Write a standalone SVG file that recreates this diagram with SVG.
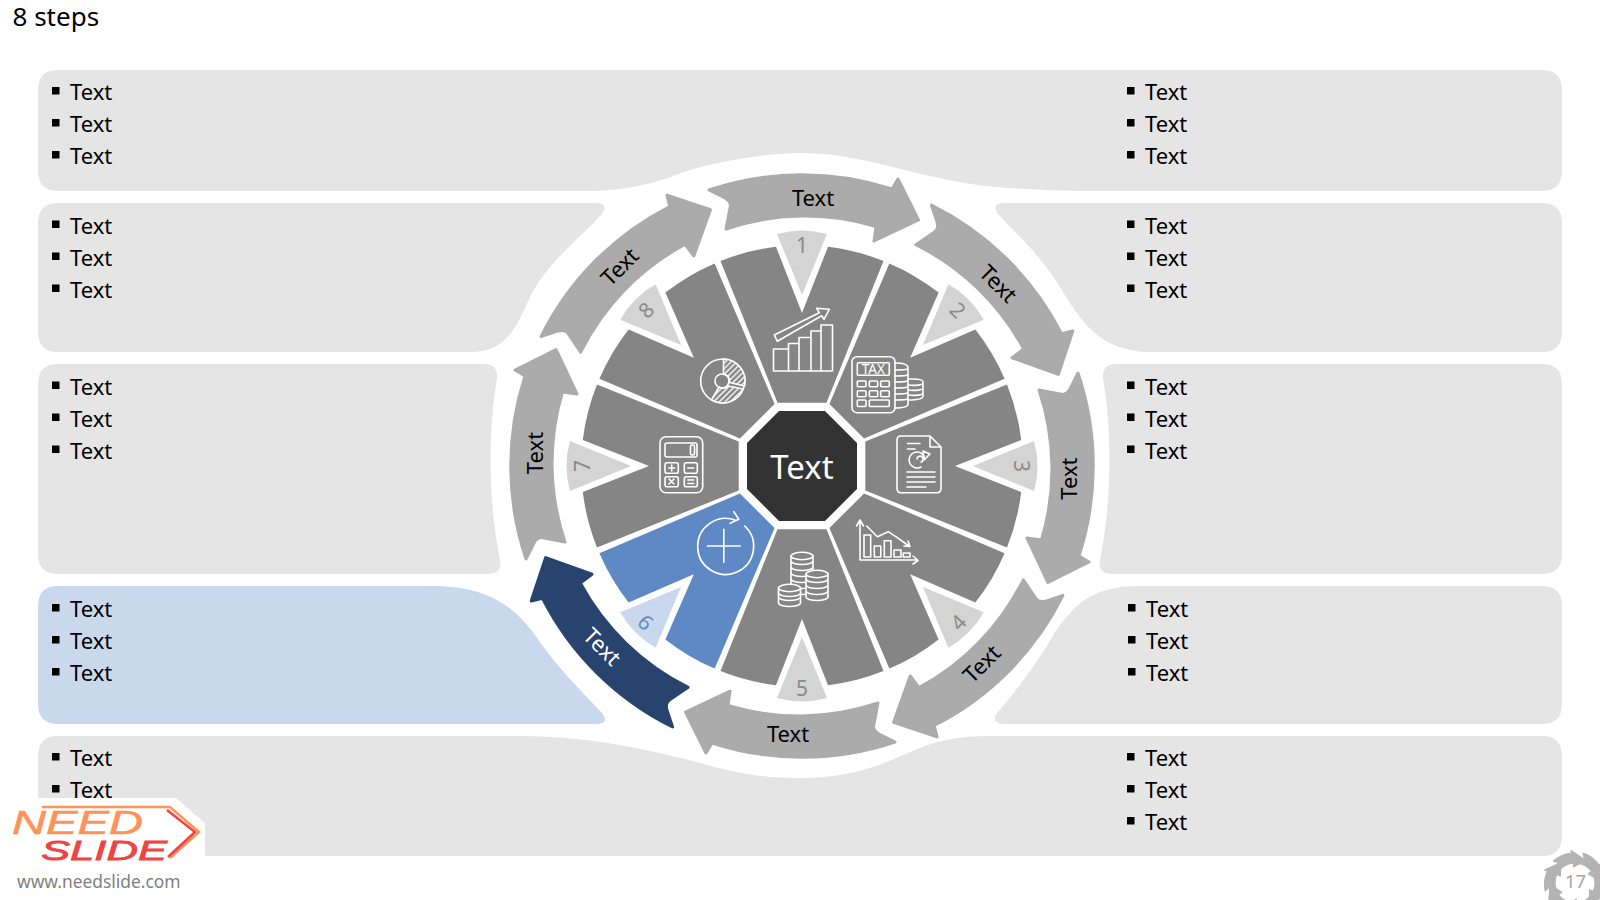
<svg xmlns="http://www.w3.org/2000/svg" width="1600" height="900" viewBox="0 0 1600 900">
<style>
text{font-family:"Noto Sans","Open Sans","Liberation Sans",sans-serif}
.panel{fill:#e5e5e5}
.t{font-size:22px;fill:#000}
.al{font-size:22px;fill:#000;text-anchor:middle}
.n{font-size:21px;fill:#8a8a8a;text-anchor:middle}
.sector{fill:#858585}
.wedge{fill:#d4d4d4}
.arrow{fill:#ababab;stroke:#ababab;stroke-width:3;stroke-linejoin:round}
.mini{fill:#b3b3b3;stroke:#b3b3b3;stroke-width:1;stroke-linejoin:round}
.ic{fill:none;stroke:#fff;stroke-width:1.6;stroke-linejoin:round;stroke-linecap:round}
.icg{fill:#858585;stroke:#fff;stroke-width:1.6;stroke-linejoin:round}
</style>
<defs>
<rect id="b" width="7.5" height="7.5" fill="#000"/>
<path id="sec" d="M-24.5,-63.3 L-81.5,-205 A220.7,220.7 0 0 1 -26,-219.2 L0,-153 L26,-219.2 A220.7,220.7 0 0 1 81.5,-205 L24.5,-63.3 Z"/>
<path id="wed" d="M0,-171 L25,-232 Q0,-239 -25,-232 Z"/>
<path id="arr" d="M-93,-276 A291,291 0 0 1 90,-277 L96,-287 L116.5,-246 L72,-225 L74,-239.5 A247.5,247.5 0 0 0 -76,-237 L-72,-258 Q-70,-264 -77,-268 Z"/>
<path id="mini" d="M-21.9,-21.9 A31,31 0 0 1 -3.7,-29.8 L-4,-32.8 L11,-22.5 L-1.4,-16 L-1.7,-20 A20,20 0 0 0 -14,-14 L-15.4,-19.7 Z"/>
<g id="disk"><path class="icg" d="M-11,-4 V1 A11,3.5 0 0 0 11,1 V-4 Z"/></g>
<pattern id="hatch" width="4" height="4" patternUnits="userSpaceOnUse" patternTransform="rotate(45)"><rect width="4" height="4" fill="#858585"/><rect width="1.4" height="4" fill="#fff"/></pattern>
</defs>
<rect width="1600" height="900" fill="#fff"/>
<text id="title" x="12.5" y="26" style="font-size:26px" fill="#000">8 steps</text>

<g id="panels">
<path id="panel-top" class="panel" d="M58,70 H1542 Q1562,70 1562,90 V171 Q1562,191 1542,191 H1090 C1040,191 980,188 940,178 C900,170 850,153 802,153 C770,153 720,160 684,172 C660,181 635,190 590,191 H58 Q38,191 38,171 V90 Q38,70 58,70 Z"/>
<path id="panel-l2" class="panel" d="M58,203 H594 Q610,203 602,214 C575,243 548,262 530,297 C517,325 508,352 470,352 H58 Q38,352 38,332 V223 Q38,203 58,203 Z"/>
<path id="panel-l3" class="panel" d="M58,364 H484 Q498,364 497,378 C488,430 488,500 500,560 Q503,574 488,574 H58 Q38,574 38,554 V384 Q38,364 58,364 Z"/>
<path id="panel-l4" fill="#c9d8ec" d="M58,586 H430 C480,586 510,600 535,635 C555,665 580,690 602,713 Q610,724 596,724 H58 Q38,724 38,704 V606 Q38,586 58,586 Z"/>
<path id="panel-bottom" class="panel" d="M58,736 H520 C590,736 650,750 700,763 C740,775 770,778 800,778 C860,778 890,760 920,748 C940,740 960,736 990,736 H1542 Q1562,736 1562,756 V836 Q1562,856 1542,856 H58 Q38,856 38,836 V756 Q38,736 58,736 Z"/>
<path id="panel-r2" class="panel" d="M1542,203 H1006 Q990,203 998,214 C1025,243 1040,255 1060,287 C1080,320 1100,352 1150,352 H1542 Q1562,352 1562,332 V223 Q1562,203 1542,203 Z"/>
<path id="panel-r3" class="panel" d="M1542,364 H1116 Q1102,364 1103,378 C1112,430 1112,500 1100,560 Q1097,574 1112,574 H1542 Q1562,574 1562,554 V384 Q1562,364 1542,364 Z"/>
<path id="panel-r4" class="panel" d="M1542,586 H1140 C1090,586 1075,605 1055,632 C1040,660 1015,692 997,713 Q990,724 1006,724 H1542 Q1562,724 1562,704 V606 Q1562,586 1542,586 Z"/>
</g>

<g id="lists-left">
<use href="#b" x="52" y="87"/><text class="t" x="70" y="100">Text</text>
<use href="#b" x="52" y="119"/><text class="t" x="70" y="132">Text</text>
<use href="#b" x="52" y="151"/><text class="t" x="70" y="164">Text</text>
<use href="#b" x="52" y="220.500"/><text class="t" x="70" y="233.500">Text</text>
<use href="#b" x="52" y="252.500"/><text class="t" x="70" y="265.500">Text</text>
<use href="#b" x="52" y="284.500"/><text class="t" x="70" y="297.500">Text</text>
<use href="#b" x="52" y="381.500"/><text class="t" x="70" y="394.500">Text</text>
<use href="#b" x="52" y="413.500"/><text class="t" x="70" y="426.500">Text</text>
<use href="#b" x="52" y="445.500"/><text class="t" x="70" y="458.500">Text</text>
<use href="#b" x="52" y="604"/><text class="t" x="70" y="617">Text</text>
<use href="#b" x="52" y="636"/><text class="t" x="70" y="649">Text</text>
<use href="#b" x="52" y="668"/><text class="t" x="70" y="681">Text</text>
<use href="#b" x="52" y="753"/><text class="t" x="70" y="766">Text</text>
<use href="#b" x="52" y="785"/><text class="t" x="70" y="798">Text</text>
</g>
<g id="lists-right">
<use href="#b" x="1127" y="87"/><text class="t" x="1145" y="100">Text</text>
<use href="#b" x="1127" y="119"/><text class="t" x="1145" y="132">Text</text>
<use href="#b" x="1127" y="151"/><text class="t" x="1145" y="164">Text</text>
<use href="#b" x="1127" y="220.500"/><text class="t" x="1145" y="233.500">Text</text>
<use href="#b" x="1127" y="252.500"/><text class="t" x="1145" y="265.500">Text</text>
<use href="#b" x="1127" y="284.500"/><text class="t" x="1145" y="297.500">Text</text>
<use href="#b" x="1127" y="381.500"/><text class="t" x="1145" y="394.500">Text</text>
<use href="#b" x="1127" y="413.500"/><text class="t" x="1145" y="426.500">Text</text>
<use href="#b" x="1127" y="445.500"/><text class="t" x="1145" y="458.500">Text</text>
<use href="#b" x="1128" y="604"/><text class="t" x="1146" y="617">Text</text>
<use href="#b" x="1128" y="636"/><text class="t" x="1146" y="649">Text</text>
<use href="#b" x="1128" y="668"/><text class="t" x="1146" y="681">Text</text>
<use href="#b" x="1127" y="753"/><text class="t" x="1145" y="766">Text</text>
<use href="#b" x="1127" y="785"/><text class="t" x="1145" y="798">Text</text>
<use href="#b" x="1127" y="817"/><text class="t" x="1145" y="830">Text</text>
</g>

<g id="arrows">
<g id="arrow-1"><use href="#arr" class="arrow" transform="translate(802,466)"/><text class="al" transform="translate(813,206)">Text</text></g>
<g id="arrow-2"><use href="#arr" class="arrow" transform="translate(802,466) rotate(45)"/><text class="al" transform="translate(998,284) rotate(45) translate(0,7.500)">Text</text></g>
<g id="arrow-3"><use href="#arr" class="arrow" transform="translate(802,466) rotate(90)"/><text class="al" transform="translate(1069,478.600) rotate(-90) translate(0,7.500)">Text</text></g>
<g id="arrow-4"><use href="#arr" class="arrow" transform="translate(802,466) rotate(135)"/><text class="al" transform="translate(982,664) rotate(-45) translate(0,7.500)">Text</text></g>
<g id="arrow-5"><use href="#arr" class="arrow" transform="translate(802,466) rotate(180)"/><text class="al" transform="translate(788,741.500)">Text</text></g>
<g id="arrow-6"><use href="#arr" class="arrow" style="fill:#27436e;stroke:#27436e" transform="translate(802,466) rotate(225)"/><text class="al" style="fill:#fff" transform="translate(602,647) rotate(45) translate(0,7.500)">Text</text></g>
<g id="arrow-7"><use href="#arr" class="arrow" transform="translate(802,466) rotate(270)"/><text class="al" transform="translate(535,453) rotate(-90) translate(0,7.500)">Text</text></g>
<g id="arrow-8"><use href="#arr" class="arrow" transform="translate(802,466) rotate(315)"/><text class="al" transform="translate(620,267) rotate(-45) translate(0,7.500)">Text</text></g>
</g>

<g id="sectors">
<g id="sector-1"><use href="#sec" class="sector" transform="translate(802,466)"/><use href="#wed" class="wedge" transform="translate(802,466)"/><text class="n" dy=".35em" transform="translate(802,246)">1</text></g>
<g id="sector-2"><use href="#sec" class="sector" transform="translate(802,466) rotate(45)"/><use href="#wed" class="wedge" transform="translate(802,466) rotate(45)"/><text class="n" dy=".35em" transform="translate(957.600,310.400) rotate(45)">2</text></g>
<g id="sector-3"><use href="#sec" class="sector" transform="translate(802,466) rotate(90)"/><use href="#wed" class="wedge" transform="translate(802,466) rotate(90)"/><text class="n" dy=".35em" transform="translate(1021,466) rotate(90)">3</text></g>
<g id="sector-4"><use href="#sec" class="sector" transform="translate(802,466) rotate(135)"/><use href="#wed" class="wedge" transform="translate(802,466) rotate(135)"/><text class="n" dy=".35em" transform="translate(958.500,622.500) rotate(-45)">4</text></g>
<g id="sector-5"><use href="#sec" class="sector" transform="translate(802,466) rotate(180)"/><use href="#wed" class="wedge" transform="translate(802,466) rotate(180)"/><text class="n" dy=".35em" transform="translate(802,688.500)">5</text></g>
<g id="sector-6"><use href="#sec" fill="#5f89c5" transform="translate(802,466) rotate(225)"/><use href="#wed" fill="#c9d8ec" transform="translate(802,466) rotate(225)"/><text class="n" style="fill:#5f89c5" dy=".35em" transform="translate(645.500,622.500) rotate(45)">6</text></g>
<g id="sector-7"><use href="#sec" class="sector" transform="translate(802,466) rotate(270)"/><use href="#wed" class="wedge" transform="translate(802,466) rotate(270)"/><text class="n" dy=".35em" transform="translate(582.500,466) rotate(-90)">7</text></g>
<g id="sector-8"><use href="#sec" class="sector" transform="translate(802,466) rotate(315)"/><use href="#wed" class="wedge" transform="translate(802,466) rotate(315)"/><text class="n" dy=".35em" transform="translate(646.400,310.400) rotate(-45)">8</text></g>
</g>

<g id="hub"><path fill="#333" d="M779,411 H825 L857,443 V489 L825,521 H779 L747,489 V443 Z"/><text x="802" y="479" text-anchor="middle" style="font-size:33px" fill="#fff">Text</text></g>

<g id="icon-growth" class="ic">
<rect x="773.500" y="349" width="15" height="22"/>
<path d="M788.500,349 V343.500 H799 V371 M788.500,371 H832.500 V325 H821 V371 M799,343.500 V337.500 H811 V371 M811,337.500 V331 H821 V325"/>
<path d="M774.300,335 L819.300,312.700 L816.700,308.300 L829.300,309.300 L824,319.300 L821.700,315.700 L777.300,341.300 Z"/>
</g>
<g id="icon-tax" class="ic">
<rect x="852" y="356.700" width="43" height="56" rx="5"/>
<rect x="857.300" y="362.700" width="32" height="12.600" rx="1"/>
<text x="873.300" y="374" text-anchor="middle" style="font-size:13.500px;stroke:none;fill:#fff">TAX</text>
<rect x="857.300" y="381" width="8.700" height="5.700" rx="1"/><rect x="869.300" y="381" width="8.400" height="5.700" rx="1"/><rect x="880.700" y="381" width="8.600" height="5.700" rx="1"/>
<rect x="857.300" y="390.700" width="8.700" height="6" rx="1"/><rect x="869.300" y="390.700" width="8.400" height="6" rx="1"/><rect x="880.700" y="390.700" width="8.600" height="6" rx="1"/>
<rect x="857.300" y="400" width="8.700" height="6.500" rx="1"/><rect x="869.300" y="400" width="20" height="6.500" rx="1"/>
<path d="M895,363 C903,363 908,365 908,368 V404 C908,407 902,408 895,408 M895,370 C902,370 908,370 908,368 M895,376 C902,376 908,376 908,374 M895,382 C902,382 908,382 908,380 M895,388 C902,388 908,388 908,386 M895,394 C902,394 908,394 908,392 M895,400 C902,400 908,400 908,398"/>
<path d="M908,379 H913 C919,379 923,380 923,382 V396 C923,399 916,400 908,400 M908,385 C915,386 923,385 923,383 M908,390 C915,391 923,390 923,388 M908,395 C915,396 923,395 923,393"/>
</g>
<g id="icon-doc" class="ic">
<path d="M901,436 H930 L941,447 V488 Q941,492.700 937,492.700 H901 Q897,492.700 897,488 V440 Q897,436 901,436 Z M930,436 V447 H941"/>
<path d="M907.500,443.500 H920 M907.500,449 H915 M907,472 H935 M907,477 H935 M907,482 H935 M907,487 H926"/>
<path d="M925,459 A8,8 0 1 0 921,467 M917,459 A3,3 0 1 1 921,462"/>
<path d="M923,451 L930,454 L924,460 Z"/>
</g>
<g id="icon-trend" class="ic">
<path d="M860,522 V560 H917 M856.500,526 L860,520 L863.500,526 M913,556 L918,560.500 L913,564"/>
<rect x="864" y="535" width="6.700" height="22"/><rect x="874.300" y="546" width="6.500" height="11"/><rect x="884.300" y="540.700" width="6.700" height="16.300"/><rect x="894" y="550" width="7" height="7"/><rect x="903.300" y="553" width="6.700" height="4"/>
<path d="M866.700,526 L877.300,536.700 L888.300,531.700 L898.300,538.300 L909,546 M908,541 L910,546.500 L904,546"/>
</g>
<g id="icon-coins">
<use href="#disk" x="802" y="590"/><use href="#disk" x="802" y="584"/><use href="#disk" x="802" y="578"/><use href="#disk" x="802" y="572"/><use href="#disk" x="802" y="566"/><use href="#disk" x="802" y="560"/>
<ellipse class="icg" cx="802" cy="556" rx="11" ry="3.700"/>
<use href="#disk" x="817" y="596"/><use href="#disk" x="817" y="590"/><use href="#disk" x="817" y="584"/><use href="#disk" x="817" y="578"/>
<ellipse class="icg" cx="817" cy="574" rx="11" ry="3.700"/>
<use href="#disk" x="789.500" y="602"/><use href="#disk" x="789.500" y="596"/><use href="#disk" x="789.500" y="592"/>
<ellipse class="icg" cx="789.500" cy="588" rx="11" ry="3.700"/>
</g>
<g id="icon-plus" class="ic">
<path d="M744.800,526 A28,28 0 1 1 736.200,520.500 M733.800,511.700 L738.800,519.300 L730.200,523.300 M707.500,546 H740.200 M723.800,529.300 V562.300"/>
</g>
<g id="icon-calc" class="ic">
<rect x="660" y="436.700" width="42.700" height="56" rx="6"/>
<rect x="665" y="443" width="32" height="14" rx="2"/><rect x="690.500" y="445" width="4" height="10" rx="1.500"/>
<rect x="665" y="462.700" width="13.300" height="10.600" rx="2"/><rect x="684.300" y="462.700" width="13" height="10.600" rx="2"/>
<rect x="665" y="476.700" width="13.300" height="10" rx="2"/><rect x="684.300" y="476.700" width="13" height="10" rx="2"/>
<path d="M671.700,465 V471 M668.700,468 H674.700 M687.800,468 H693.800 M669,479 L674,484 M674,479 L669,484 M687.800,480 H693.800 M687.800,483.500 H693.800"/>
</g>
<g id="icon-pie" class="ic">
<circle cx="722.700" cy="381" r="22"/>
<path style="fill:url(#hatch)" d="M723.500,359 A22,22 0 0 1 744.500,386 L729.500,382.500 A7,7 0 0 0 723.500,374 Z"/>
<path style="fill:url(#hatch)" d="M743,389 A22,22 0 0 1 711.500,400 L719,387 A7,7 0 0 0 728,386 Z"/>
<circle cx="722" cy="381" r="7"/>
</g>

<g id="logo">
<path fill="#fff" d="M37.700,798 H176 L205,823 V857.500 H37.700 Z"/>
<path fill="none" stroke="#ff9257" stroke-width="2.500" d="M42,807 H170 L199,832 L170,858"/>
<path fill="none" stroke="#ee4444" stroke-width="2.500" d="M167,810 L195,832 L168,857"/>
<text x="12" y="834" textLength="131" lengthAdjust="spacingAndGlyphs" style="font-family:'Liberation Sans',sans-serif;font-size:34px;font-style:italic;stroke:#ff9257;stroke-width:.6px" fill="#ff9257">NEED</text>
<text x="41" y="860" textLength="126" lengthAdjust="spacingAndGlyphs" style="font-family:'Liberation Sans',sans-serif;font-size:28px;font-style:italic;stroke:#ee4444;stroke-width:.8px" fill="#ee4444">SLIDE</text>
<text x="17" y="888" style="font-size:17.400px" fill="#7f7f7f">www.needslide.com</text>
</g>

<g id="page-number">
<g transform="translate(1575,883)">
<use href="#mini" class="mini"/><use href="#mini" class="mini" transform="rotate(60)"/><use href="#mini" class="mini" transform="rotate(120)"/><use href="#mini" class="mini" transform="rotate(180)"/><use href="#mini" class="mini" transform="rotate(240)"/><use href="#mini" class="mini" transform="rotate(300)"/>
</g>
<text x="1575.500" y="888" text-anchor="middle" style="font-size:18.500px" fill="#a6a6a6">17</text>
</g>
</svg>
